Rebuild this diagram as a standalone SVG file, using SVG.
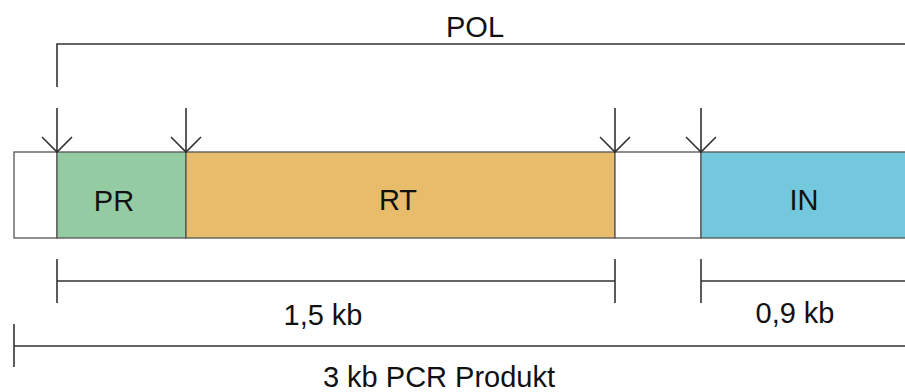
<svg xmlns="http://www.w3.org/2000/svg" width="905" height="392" viewBox="0 0 905 392">
  <style>
    .ln { stroke: #333; stroke-width: 1.6; fill: none; }
    .seg { stroke: #555; stroke-width: 1.3; }
    .t { font-family: "Liberation Sans", Arial, sans-serif; font-size: 29px; fill: #111; text-anchor: middle; }
  </style>
  <rect width="905" height="392" fill="#fff"/>
  <g id="bar">
    <g id="spacer1"><rect class="seg" x="14" y="152" width="43" height="86" fill="#fff"/></g>
    <g id="PR"><rect class="seg" x="57" y="152" width="129" height="86" fill="#94CBA3"/><text class="t" x="114" y="211">PR</text></g>
    <g id="RT"><rect class="seg" x="186" y="152" width="429" height="86" fill="#E7BC6B"/><text class="t" x="398" y="210">RT</text></g>
    <g id="spacer2"><rect class="seg" x="615" y="152" width="86" height="86" fill="#fff"/></g>
    <g id="IN"><rect class="seg" x="701" y="152" width="210" height="86" fill="#73C8DD"/><text class="t" x="804" y="210">IN</text></g>
  </g>
  <g id="connectors">
    <path class="ln" d="M57 87 V44 H905"/>
    <path class="ln" d="M57 108 V152 M42 137 L57 152 L72 137"/>
    <path class="ln" d="M186 108 V152 M171 137 L186 152 L201 137"/>
    <path class="ln" d="M615 108 V152 M600 137 L615 152 L630 137"/>
    <path class="ln" d="M701 108 V152 M686 137 L701 152 L716 137"/>
    <path class="ln" d="M57 259 V303 M57 281 H615 M615 259 V303"/>
    <path class="ln" d="M701 259 V303 M701 281 H905"/>
    <path class="ln" d="M14 324 V367 M14 346 H905"/>
  </g>
  <g id="labels">
    <text class="t" x="475" y="37">POL</text>
    <text class="t" x="323" y="325">1,5 kb</text>
    <text class="t" x="795" y="323">0,9 kb</text>
    <text class="t" x="439" y="387">3 kb PCR Produkt</text>
  </g>
</svg>
